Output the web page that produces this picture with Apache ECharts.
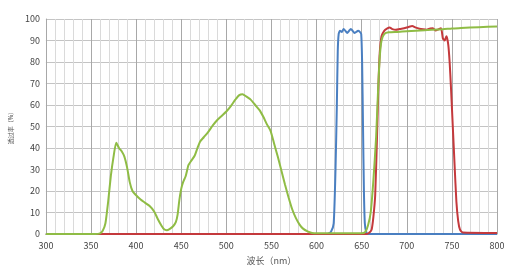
<!DOCTYPE html>
<html>
<head>
<meta charset="utf-8">
<script src="https://cdn.jsdelivr.net/npm/echarts@6/dist/echarts.min.js"></script>
<style>html,body{margin:0;padding:0;background:#fff}#c{width:520px;height:272px}</style>
</head>
<body>
<div id="c"></div>
<script>
var xTicks = [300,350,400,450,500,550,600,650,700,750,800];
var yTicks = [0,10,20,30,40,50,60,70,80,90,100];
var xName = '波长（nm）';
var yName = '透过率（%）';

var greenData = [[300,0],[355,0],[360,0.3],[363,1.5],[366,5],[369,15],[372,27],[375,36],[378,42.5],[381,40],[384,38.5],[387,36],[390,31],[393,24],[396,20],[400,18],[405,16],[410,14.5],[415,13],[420,10.5],[424,7],[428,4],[431,2.2],[434,1.8],[437,2.3],[441,3.6],[444,5.5],[446,9],[448,16],[450,21],[452,24],[455,27],[458,32],[461,34],[465,36.5],[468,40],[471,43],[475,45],[480,47.5],[485,50.5],[490,53],[495,55],[500,57],[505,59.5],[510,62.5],[514,64.5],[518,65],[522,64],[527,62.5],[532,60],[537,57.5],[541,54.5],[545,51],[549,48],[553,42],[557,36],[561,29.5],[565,23],[569,17],[573,11.5],[577,7.5],[581,4.5],[585,2.5],[590,1.2],[595,0.5],[600,0.3],[650,0.3],[654,1],[657,4],[660,10],[663,25],[666,45],[668,65],[670,82],[672,90],[675,93],[680,93.8],[690,94],[700,94.3],[720,94.8],[740,95.2],[750,95.6],[760,95.8],[780,96.2],[800,96.5]];
var blueData = [[300,0],[612,0],[616,1],[619,5],[621,30],[622.5,60],[623.5,85],[624.5,93],[626,94.5],[628,94],[630,95.3],[632,94.5],[634,93.5],[636,94.5],[638,95.3],[640,94.5],[642,93.5],[644,94],[646,94.5],[648,94],[649.5,93],[650.5,80],[651.5,50],[652.5,20],[653.5,5],[655,1],[657,0],[800,0]];
var redData = [[300,0],[655,0],[658,0.5],[661,2],[663,8],[665,18],[667,45],[668.5,68],[670,84],[672,92],[675,94.5],[678,95.5],[681,96],[684,95.3],[688,95],[692,95.3],[697,95.7],[702,96.3],[706,96.7],[710,96],[714,95.5],[718,95.2],[722,95],[726,95.6],[729,95.7],[732,94.6],[735,95.2],[738,95.7],[740,91],[742,90],[744,92],[746,88],[747.5,80],[749,68],[751,50],[753,32],[755,15],[757,6],[759,2],[762,0.7],[800,0.5]];

var chart = echarts.init(document.getElementById('c'), null, {renderer:'canvas'});
var font = '"Noto Sans CJK SC","Noto Sans",sans-serif';
chart.setOption({
  animation:false,
  grid:{left:42,right:23,top:19,bottom:38,containLabel:false},
  xAxis:{type:'value',min:xTicks[0],max:xTicks[xTicks.length-1],interval:50,
    name:xName,nameLocation:'middle',nameGap:22,
    nameTextStyle:{fontSize:9,color:'#555',fontFamily:font},
    axisLine:{show:true,lineStyle:{color:'#a8a8a8'}},axisTick:{show:false},
    axisLabel:{fontSize:9,color:'#444',margin:7,fontFamily:font},
    splitLine:{show:true,lineStyle:{color:'#a8a8a8',width:1}},
    minorTick:{show:false,splitNumber:5},
    minorSplitLine:{show:true,lineStyle:{color:'#dadada',width:1}}},
  yAxis:{type:'value',min:yTicks[0],max:yTicks[yTicks.length-1],interval:10,
    name:yName,nameLocation:'middle',nameGap:23,
    nameTextStyle:{fontSize:6,color:'#555',fontFamily:font},
    axisLine:{show:true,lineStyle:{color:'#a8a8a8'}},axisTick:{show:false},
    axisLabel:{fontSize:9,color:'#444',margin:6,fontFamily:font},
    splitLine:{show:true,lineStyle:{color:'#c4c4c4',width:1}}},
  series:[
    {type:'line',data:blueData,showSymbol:false,smooth:0.2,lineStyle:{color:'#4a7fc1',width:2},itemStyle:{color:'#4a7fc1'}},
    {type:'line',data:redData,showSymbol:false,smooth:0.2,lineStyle:{color:'#c4393c',width:2},itemStyle:{color:'#c4393c'}},
    {type:'line',data:greenData,showSymbol:false,smooth:0.2,lineStyle:{color:'#8fbc45',width:2},itemStyle:{color:'#8fbc45'}}
  ]
});
</script>
</body>
</html>
